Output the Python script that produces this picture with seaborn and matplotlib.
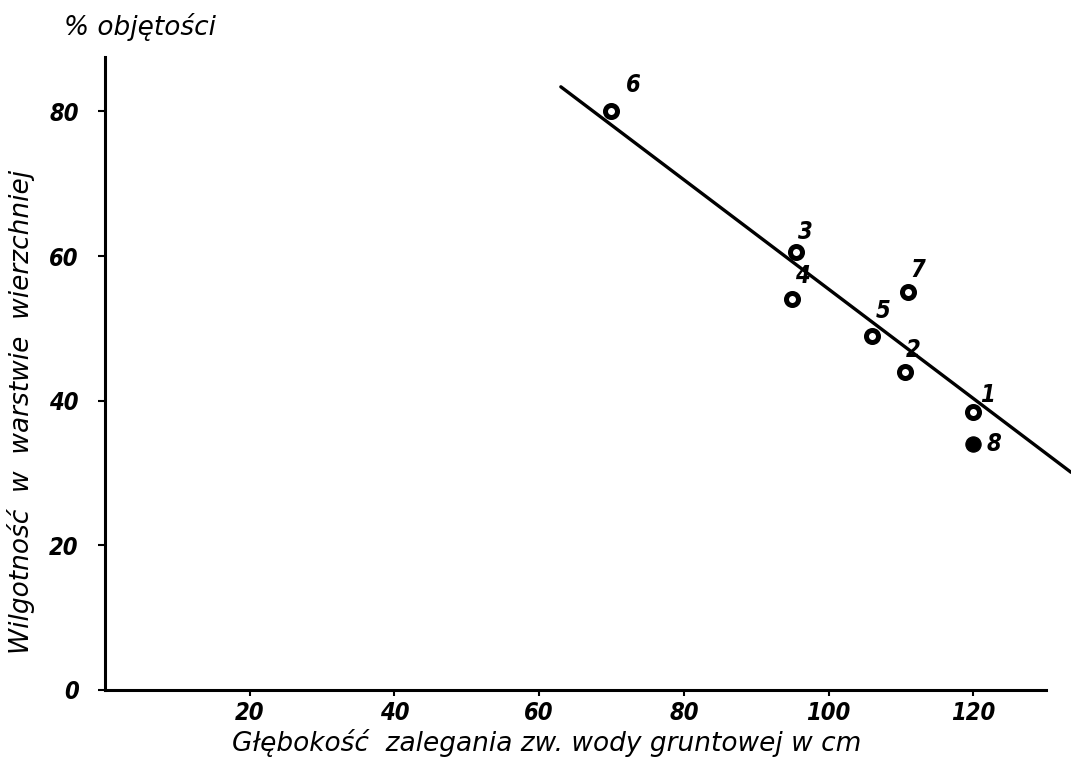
import matplotlib
matplotlib.use("Agg")
import matplotlib.pyplot as plt
import seaborn as sns
import pandas as pd

# Values
point_ids = ['1', '2', '3', '4', '5', '6', '7', '8']
depth_cm = [120, 110.5, 95.5, 95, 106, 70, 111, 120]
moisture_pct = [38.5, 44, 60.5, 54, 49, 80, 55, 34]
filled = [False, False, False, False, False, False, False, True]

# Hand-drawn trend line endpoints
line_depth = [63, 133.5]
line_moisture = [83.4, 30.1]

x_ticks = [20, 40, 60, 80, 100, 120]
y_ticks = [0, 20, 40, 60, 80]

df = pd.DataFrame({'id': point_ids, 'depth': depth_cm,
                   'moisture': moisture_pct, 'filled': filled})

sns.set_style("ticks")
plt.rcParams['font.family'] = ['DejaVu Sans']
plt.rcParams['text.color'] = 'black'
plt.rcParams['xtick.color'] = 'black'
plt.rcParams['ytick.color'] = 'black'

fig = plt.figure(figsize=(10.71, 7.62), dpi=100)
ax = fig.add_axes([0.098, 0.0945, 0.902, 0.8305])

# Trend line
sns.lineplot(x=line_depth, y=line_moisture, ax=ax, color='black', lw=2.4)

# Points: open rings and the single filled one
sns.scatterplot(data=df[~df['filled']], x='depth', y='moisture', ax=ax,
                s=75, facecolor='white', edgecolor='black', linewidth=3.6)
sns.scatterplot(data=df[df['filled']], x='depth', y='moisture', ax=ax,
                s=120, color='black', edgecolor='black')

# Number labels next to points (offsets in points)
offsets = {'1': (10, 12), '2': (6, 16), '3': (7, 15), '4': (7, 17),
           '5': (8, 18), '6': (16, 19), '7': (7, 16), '8': (15, 0)}
txt = dict(style='italic', fontweight='bold', fontsize=17, fontstretch='condensed',
           color='black')
for pid, x, y in zip(point_ids, depth_cm, moisture_pct):
    ax.annotate(pid, (x, y), xytext=offsets[pid], textcoords='offset points',
                ha='center', va='center', **txt)

ax.set_xlim(0, 133.5)
ax.set_ylim(0, 87.5)
ax.set_xticks(x_ticks)
ax.set_yticks(y_ticks)
ax.set_xticklabels([str(t) for t in x_ticks], **txt)
ax.set_yticklabels([str(t) for t in y_ticks], **txt)
ax.tick_params(axis='y', length=5, width=1.5, pad=14)
ax.tick_params(axis='x', length=4, width=1.5, pad=4)

sns.despine(ax=ax)
ax.spines['left'].set_linewidth(2.2)
ax.spines['bottom'].set_linewidth(2.2)
ax.spines['left'].set_color('black')
ax.spines['bottom'].set_color('black')
ax.spines['bottom'].set_bounds(0, 130)

lab = dict(style='italic', fontsize=19, color='black')
ax.set_xlabel('')
ax.set_ylabel('')
fig.text(0.51, 0.014, 'Głębokość  zalegania zw. wody gruntowej w cm',
         ha='center', va='baseline', **lab)
fig.text(0.02, 0.46, 'Wilgotność  w  warstwie  wierzchniej', rotation=90,
         ha='center', va='center', **lab)
fig.text(0.06, 0.965, '% objętości', ha='left', va='center', **lab)

fig.savefig('out.png', dpi=100)
